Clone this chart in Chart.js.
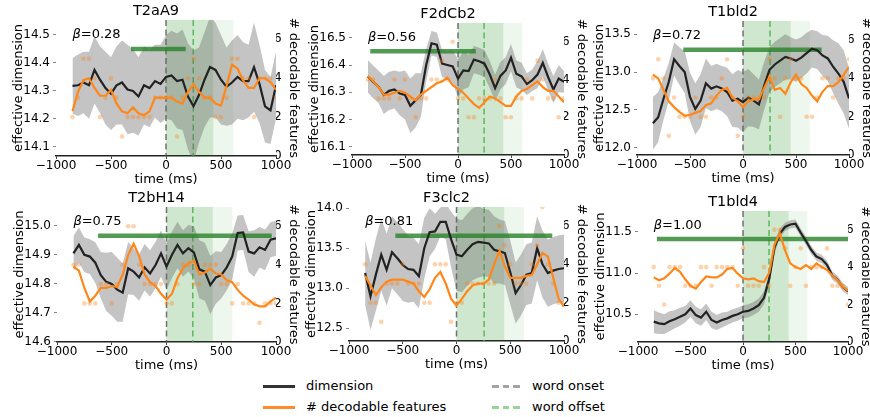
<!DOCTYPE html>
<html>
<head>
<meta charset="utf-8">
<script src="https://cdn.jsdelivr.net/npm/chart.js@4.4.0/dist/chart.umd.min.js"></script>
<style>
  body { margin: 0; width: 870px; height: 417px; overflow: hidden; background: #fff; position: relative; font-family: 'DejaVu Sans'; }
  .panel { position: absolute; }
  .leg-line { position: absolute; height: 3px; }
  .leg-text { position: absolute; font-size: 13px; line-height: 16px; color: #000; white-space: nowrap; }
</style>
</head>
<body>
<div id="panels"></div>

<div class="leg-line" style="left:263px;top:385px;width:32px;background:#333;"></div>
<div class="leg-text" style="left:306px;top:378px;">dimension</div>
<div class="leg-line" style="left:263px;top:406px;width:32px;background:#ff8c2a;"></div>
<div class="leg-text" style="left:306px;top:399px;"># decodable features</div>
<div class="leg-line" style="left:492px;top:385px;width:28px;height:2.5px;background:repeating-linear-gradient(to right,#a3a3a3 0 7px,transparent 7px 10.5px);"></div>
<div class="leg-text" style="left:532px;top:378px;">word onset</div>
<div class="leg-line" style="left:492px;top:406px;width:28px;height:2.5px;background:repeating-linear-gradient(to right,#98d398 0 7px,transparent 7px 10.5px);"></div>
<div class="leg-text" style="left:532px;top:399px;">word offset</div>

<script>
// time axis shared by every panel (ms)
const times = [-850,-800,-750,-700,-650,-600,-550,-500,-450,-400,-350,-300,-250,-200,-150,-100,-50,0,50,100,150,200,250,300,350,400,450,500,550,600,650,700,750,800,850,900,950,1000];

const panelNames = ['T2aA9', 'F2dCb2', 'T1bld2', 'T2bH14', 'F3clc2', 'T1bld4'];
const betas = ['0.28', '0.56', '0.72', '0.75', '0.81', '1.00'];

// effective dimension (mean) per panel
const dimT2aA9 = [14.318,14.32,14.33,14.32,14.375,14.34,14.31,14.29,14.32,14.33,14.305,14.30,14.28,14.32,14.31,14.335,14.325,14.35,14.355,14.335,14.34,14.28,14.245,14.285,14.34,14.385,14.375,14.34,14.315,14.33,14.35,14.335,14.335,14.385,14.325,14.245,14.23,14.32];
const dimF2dCb2 = [16.358,16.338,16.32,16.29,16.305,16.31,16.295,16.29,16.25,16.27,16.29,16.40,16.48,16.475,16.405,16.40,16.395,16.35,16.38,16.378,16.42,16.414,16.405,16.365,16.315,16.36,16.38,16.427,16.368,16.358,16.33,16.344,16.365,16.408,16.356,16.31,16.35,16.338];
const dimT1bld2 = [12.32,12.40,12.645,12.87,13.17,13.08,13.00,12.67,12.51,12.62,12.85,12.78,12.81,12.78,12.735,12.62,12.645,12.60,12.66,12.62,12.57,12.82,13.03,13.10,13.15,13.20,13.18,13.15,13.19,13.25,13.31,13.29,13.22,13.18,13.07,12.98,12.87,12.65];
const dimT2bH14 = [14.905,14.934,14.90,14.894,14.873,14.83,14.807,14.80,14.78,14.77,14.854,14.842,14.822,14.857,14.836,14.865,14.905,14.86,14.90,14.934,14.905,14.923,14.908,14.85,14.842,14.796,14.822,14.83,14.857,14.894,14.975,14.977,14.911,14.905,14.926,14.917,14.952,14.957];
const dimF3clc2 = [13.19,12.90,13.17,13.42,13.23,13.45,13.375,13.29,13.24,13.23,13.15,13.50,13.70,13.71,13.83,13.83,13.61,13.42,13.40,13.48,13.55,13.58,13.57,13.56,13.48,13.46,13.44,13.20,12.94,13.04,13.17,13.19,13.50,13.30,13.19,13.22,13.24,13.25];
const dimT1bld4 = [10.41,10.39,10.38,10.415,10.44,10.47,10.50,10.57,10.49,10.46,10.53,10.43,10.40,10.43,10.45,10.48,10.50,10.53,10.54,10.57,10.61,10.70,10.93,11.31,11.48,11.56,11.59,11.60,11.49,11.39,11.28,11.20,11.17,11.10,10.97,10.92,10.83,10.78];

// half width of the grey band around the dimension
const errT2aA9 = [0.10,0.11,0.11,0.12,0.12,0.12,0.13,0.13,0.14,0.15,0.16,0.15,0.14,0.14,0.14,0.13,0.14,0.15,0.16,0.17,0.18,0.19,0.20,0.17,0.17,0.18,0.17,0.16,0.14,0.15,0.15,0.14,0.13,0.16,0.14,0.13,0.12,0.12];
const errF2dCb2 = [0.06,0.06,0.06,0.07,0.07,0.07,0.08,0.09,0.10,0.10,0.08,0.06,0.045,0.045,0.05,0.05,0.06,0.07,0.07,0.06,0.05,0.05,0.05,0.05,0.05,0.05,0.05,0.05,0.05,0.05,0.04,0.04,0.05,0.05,0.05,0.05,0.05,0.04];
const errT1bld2 = [0.35,0.33,0.28,0.25,0.22,0.25,0.28,0.32,0.34,0.35,0.33,0.30,0.30,0.30,0.32,0.35,0.38,0.40,0.38,0.35,0.33,0.32,0.30,0.30,0.30,0.30,0.28,0.28,0.27,0.27,0.25,0.25,0.27,0.30,0.35,0.40,0.42,0.40];
const errT2bH14 = [0.06,0.06,0.06,0.06,0.07,0.08,0.10,0.11,0.11,0.10,0.09,0.08,0.08,0.08,0.08,0.08,0.08,0.08,0.08,0.08,0.08,0.08,0.09,0.10,0.10,0.10,0.09,0.08,0.08,0.08,0.06,0.06,0.07,0.08,0.07,0.07,0.06,0.06];
const errF3clc2 = [0.40,0.42,0.45,0.45,0.45,0.45,0.45,0.45,0.42,0.40,0.40,0.38,0.30,0.22,0.18,0.22,0.35,0.45,0.45,0.45,0.45,0.45,0.42,0.42,0.42,0.40,0.40,0.40,0.38,0.38,0.38,0.38,0.40,0.42,0.42,0.42,0.42,0.42];
const errT1bld4 = [0.14,0.13,0.12,0.12,0.11,0.11,0.10,0.10,0.10,0.10,0.10,0.10,0.09,0.09,0.08,0.08,0.08,0.08,0.08,0.08,0.08,0.08,0.08,0.07,0.06,0.05,0.05,0.05,0.05,0.05,0.05,0.05,0.05,0.05,0.05,0.05,0.05,0.05];

// smoothed number of decodable features
const featT2aA9 = [2.3,3.3,3.9,4.0,3.5,3.1,3.1,3.4,2.7,2.3,2.2,2.5,2.2,2.1,2.3,3.0,3.0,3.0,3.0,2.8,2.7,3.3,3.7,3.3,3.0,3.0,2.7,2.6,3.6,4.7,4.5,3.9,3.5,3.5,4.0,4.0,3.8,3.4];
const featF2dCb2 = [4.2,3.9,3.6,3.2,3.2,3.3,3.4,3.3,3.1,2.9,3.2,3.4,3.6,3.8,3.9,4.1,3.7,3.5,3.3,3.0,2.7,2.5,2.8,3.1,3.0,2.8,2.6,2.6,3.1,3.4,3.5,3.7,3.9,3.6,3.4,3.4,3.1,2.8];
const featT1bld2 = [4.2,4.0,3.4,2.8,2.5,2.25,2.05,2.1,2.2,2.3,2.6,2.7,3.1,3.4,3.5,3.0,2.8,2.5,2.8,2.9,2.9,3.5,4.1,3.4,3.5,3.2,3.8,4.2,3.7,3.5,3.1,2.8,3.3,3.6,3.6,3.8,4.2,4.6];
const featT2bH14 = [3.9,3.7,2.8,2.1,2.4,2.8,2.8,2.9,2.85,3.5,4.5,5.1,4.45,3.5,3.1,2.9,2.5,2.2,2.5,3.3,3.8,4.1,4.2,3.5,3.6,3.8,3.55,3.5,3.2,3.1,2.7,2.4,2.2,1.95,1.85,1.85,2.1,2.3];
const featF3clc2 = [3.4,2.9,2.4,2.8,3.1,3.2,3.2,3.2,3.1,3.0,2.6,2.3,2.7,3.3,3.6,3.0,2.2,1.85,2.2,2.6,2.9,3.0,3.0,3.2,4.0,4.7,3.9,3.3,3.3,3.3,3.4,3.45,4.0,4.6,4.4,3.3,2.2,1.8];
const featT1bld4 = [3.45,3.3,3.4,3.65,3.95,3.75,3.35,3.0,2.85,3.2,3.5,3.45,3.45,3.6,3.9,3.95,3.65,3.4,3.35,3.4,3.25,3.2,3.7,5.2,5.8,4.9,4.2,4.0,3.9,4.1,3.9,4.2,4.0,3.85,3.55,3.3,2.95,2.75];

// raw (unsmoothed) feature counts, shown as faint dots
const rawT2aA9 = [2,3,5,5,4,2,3,4,3,1,2,2,2,2,2,3,3,3,3,1,3,4,5,4,3,3,2,2,3,5,5,4,4,2,4,4,4,3];
const rawF2dCb2 = [4,4,3,3,3,4,3,4,3,2,3,3,4,4,5,4,6,3,3,2,2,3,3,3,4,3,2,2,3,3,4,3,5,4,3,3,2,3];
const rawT1bld2 = [4,5,4,1,3,2,2,2,3,2,2,3,3,4,5,3,1,2,3,3,3,3,5,4,2,4,5,4,4,2,2,3,4,4,3,4,4,5];
const rawT2bH14 = [4,4,2,2,2,3,3,2,3,4,6,6,4,3,3,3,3,2,2,3,4,4,3,3,4,4,4,3,3,2,3,2,2,2,1,2,2,2];
const rawF3clc2 = [4,2,2,1,3,3,3,4,3,3,3,2,2,4,4,4,1,2,2,3,3,3,3,3,3,6,5,4,3,3,3,4,5,7,4,3,2,2];
const rawT1bld4 = [4,3,2,4,4,4,3,3,3,4,4,3,4,4,4,4,3,5,3,3,3,4,3,6,6,5,3,4,5,3,4,4,4,5,3,3,3,2];

const dims = [dimT2aA9, dimF2dCb2, dimT1bld2, dimT2bH14, dimF3clc2, dimT1bld4];
const errs = [errT2aA9, errF2dCb2, errT1bld2, errT2bH14, errF3clc2, errT1bld4];
const feats = [featT2aA9, featF2dCb2, featT1bld2, featT2bH14, featF3clc2, featT1bld4];
const raws = [rawT2aA9, rawF2dCb2, rawT1bld2, rawT2bH14, rawF3clc2, rawT1bld4];

// significance bar (ms) and word timing (ms)
const sigStart = [-318, -828, -563, -625, -569, -819];
const sigEnd = [179, 168, 742, 961, 891, 1000];
const sigLevel = 5.5;
const wordOffset = [248, 246, 255, 240, 257, 248];
const shadeEnd = [430, 428, 450, 423, 444, 435];
const shadeFadeEnd = [612, 607, 632, 602, 627, 613];

// axis limits
const dimMin = [14.067, 16.069, 11.899, 14.6, 12.341, 10.163];
const dimMax = [14.554, 16.555, 13.678, 15.065, 14.016, 11.755];
const dimStep = [0.1, 0.1, 0.5, 0.1, 0.5, 0.5];

// plot boxes on the page: left, top, width, height
const boxes = [[56, 20, 220, 136], [352, 23, 212, 132], [637, 21, 212, 134],
               [57, 207, 219, 135], [349, 207, 215, 134], [638, 211, 210, 131]];
const L = 45, R = 25, T = 20, B = 31;

Chart.defaults.font.family = "'DejaVu Sans'";
Chart.defaults.color = '#000';

const ORANGE = 'rgb(255,135,25)';

const panelDeco = {
    id: 'panelDeco',
    beforeDatasetsDraw(chart, args, opts) {
        const {ctx, chartArea: a, scales: {x}} = chart;
        const x0 = x.getPixelForValue(0);
        const xd = x.getPixelForValue(opts.shade);
        const xl = x.getPixelForValue(opts.fade);
        ctx.save();
        ctx.fillStyle = 'rgba(0,128,0,0.19)';
        ctx.fillRect(x0, a.top, xd - x0, a.bottom - a.top);
        ctx.fillStyle = 'rgba(0,128,0,0.065)';
        ctx.fillRect(xd, a.top, xl - xd, a.bottom - a.top);
        ctx.lineWidth = 1.5;
        ctx.setLineDash([6, 3.5]);
        [[0, 'rgba(80,80,80,0.8)'], [opts.offset, 'rgba(70,175,70,0.85)']].forEach(([t, c]) => {
            const px = x.getPixelForValue(t);
            ctx.strokeStyle = c;
            ctx.beginPath();
            ctx.moveTo(px, a.top);
            ctx.lineTo(px, a.bottom);
            ctx.stroke();
        });
        ctx.restore();
    },
    afterDatasetsDraw(chart, args, opts) {
        const {ctx, chartArea: a} = chart;
        const tx = a.left + 0.075 * (a.right - a.left);
        const ty = a.top + 15;
        ctx.save();
        ctx.fillStyle = '#000';
        ctx.textBaseline = 'middle';
        ctx.font = "italic 13px 'DejaVu Sans'";
        ctx.fillText('β', tx, ty);
        const w = ctx.measureText('β').width;
        ctx.font = "13px 'DejaVu Sans'";
        ctx.fillText('=' + opts.beta, tx + w, ty);
        ctx.restore();
    }
};

const holder = document.getElementById('panels');

panelNames.forEach((name, i) => {
    const [bl, bt, bw, bh] = boxes[i];
    const div = document.createElement('div');
    div.className = 'panel';
    div.style.left = (bl - L) + 'px';
    div.style.top = (bt - T) + 'px';
    div.style.width = (bw + L + R) + 'px';
    div.style.height = (bh + T + B) + 'px';
    const canvas = document.createElement('canvas');
    div.appendChild(canvas);
    holder.appendChild(div);

    const dim = dims[i], err = errs[i];

    new Chart(canvas, {
        type: 'line',
        data: {
            datasets: [
                {
                    data: times.map((t, k) => ({x: t, y: feats[i][k]})),
                    yAxisID: 'y2', borderColor: ORANGE, borderWidth: 2.2,
                    pointRadius: 0, fill: false
                },
                {
                    data: times.map((t, k) => ({x: t, y: raws[i][k]})),
                    yAxisID: 'y2', showLine: false, pointRadius: 2.3,
                    pointBorderWidth: 0, pointBackgroundColor: 'rgba(255,127,14,0.35)'
                },
                {
                    data: times.map((t, k) => ({x: t, y: dim[k]})),
                    yAxisID: 'y', borderColor: '#222', borderWidth: 2.2,
                    pointRadius: 0, fill: false
                },
                {
                    data: [{x: sigStart[i], y: sigLevel}, {x: sigEnd[i], y: sigLevel}],
                    yAxisID: 'y2', borderColor: 'rgba(40,130,40,0.8)', borderWidth: 4.5,
                    pointRadius: 0, borderCapStyle: 'butt'
                },
                {
                    data: times.map((t, k) => ({x: t, y: dim[k] + err[k]})),
                    yAxisID: 'y', borderWidth: 0, pointRadius: 0,
                    fill: '+1', backgroundColor: 'rgba(100,100,100,0.38)'
                },
                {
                    data: times.map((t, k) => ({x: t, y: dim[k] - err[k]})),
                    yAxisID: 'y', borderWidth: 0, pointRadius: 0, fill: false
                }
            ]
        },
        options: {
            responsive: true,
            maintainAspectRatio: false,
            animation: false,
            devicePixelRatio: 1,
            layout: {padding: 0},
            plugins: {
                legend: {display: false},
                tooltip: {enabled: false},
                title: {
                    display: true, text: name, color: '#000',
                    font: {size: 14.5, weight: 'normal'},
                    padding: {top: 2.5, bottom: 0}
                },
                panelDeco: {
                    shade: shadeEnd[i], fade: shadeFadeEnd[i],
                    offset: wordOffset[i], beta: betas[i]
                }
            },
            scales: {
                x: {
                    type: 'linear', min: -1000, max: 1000,
                    afterFit: s => { s.height = B; },
                    border: {display: true, color: '#222', width: 1.5},
                    grid: {drawOnChartArea: false, drawTicks: true, tickLength: 3, color: '#444'},
                    ticks: {
                        stepSize: 500, maxRotation: 0, autoSkip: false, padding: 0,
                        font: {size: 12},
                        callback: v => v < 0 ? '\u2212' + Math.abs(v) : String(v)
                    },
                    title: {display: true, text: 'time (ms)', font: {size: 13}, padding: 0}
                },
                y: {
                    position: 'left', min: dimMin[i], max: dimMax[i],
                    afterFit: s => { s.width = L; },
                    border: {display: false},
                    grid: {drawOnChartArea: false, drawTicks: true, tickLength: 3, color: '#666', lineWidth: 0.8},
                    ticks: {
                        stepSize: dimStep[i], includeBounds: false, padding: 3,
                        font: {size: 12},
                        callback: v => v.toFixed(1)
                    },
                    title: {display: true, text: 'effective dimension', font: {size: 13}, padding: 0}
                },
                y2: {
                    position: 'right', min: 0, max: 7,
                    afterFit: s => { s.width = R; },
                    border: {display: false},
                    grid: {drawOnChartArea: false, drawTicks: false},
                    ticks: {
                        stepSize: 2, includeBounds: false, padding: -2,
                        font: {size: 12}
                    },
                    title: {display: true, text: '# decodable features', font: {size: 13}, padding: 0}
                }
            }
        },
        plugins: [panelDeco]
    });
});
</script>
</body>
</html>
